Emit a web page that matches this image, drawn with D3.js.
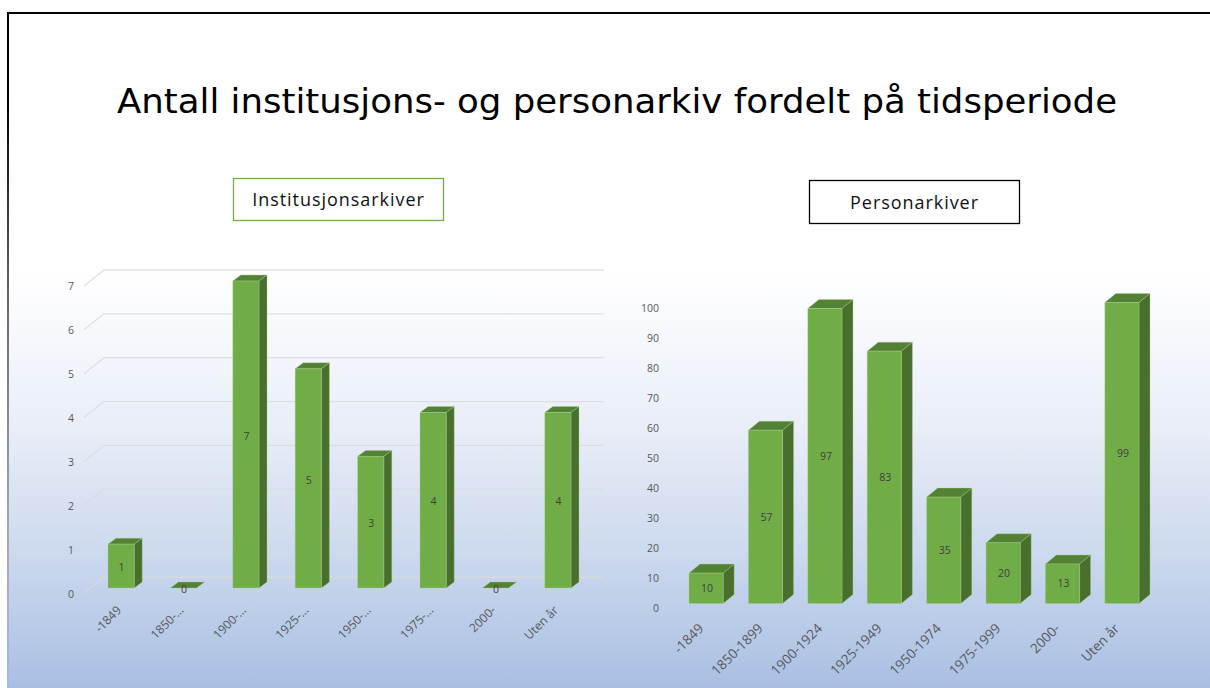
<!DOCTYPE html>
<html><head><meta charset="utf-8">
<script src="https://cdn.jsdelivr.net/npm/d3@7/dist/d3.min.js"></script>
<style>html,body{margin:0;padding:0;background:#fff}svg{display:block}</style>
</head><body><svg id="c" width="1210" height="688"></svg>
<script>
const titleText = "Antall institusjons- og personarkiv fordelt på tidsperiode";
const leftTitle = "Institusjonsarkiver";
const rightTitle = "Personarkiver";
const leftCategories = ["-1849","1850-…","1900-…","1925-…","1950-…","1975-…","2000-","Uten år"];
const leftValues = [1,0,7,5,3,4,0,4];
const leftTicks = [0,1,2,3,4,5,6,7];
const rightCategories = ["-1849","1850-1899","1900-1924","1925-1949","1950-1974","1975-1999","2000-","Uten år"];
const rightValues = [10,57,97,83,35,20,13,99];
const rightTicks = [0,10,20,30,40,50,60,70,80,90,100];

const svg = d3.select("#c");
const FONT = "'Open Sans','Noto Sans',sans-serif";
const defs = svg.append("defs");
const grad = defs.append("linearGradient").attr("id","bg").attr("x1",0).attr("x2",0).attr("y1",0).attr("y2",1);
[[0,"#ffffff"],[0.385,"#ffffff"],[0.62,"#e8edf7"],[0.8,"#ccd9ee"],[1,"#a9bfe2"]].forEach(s=>
  grad.append("stop").attr("offset",s[0]).attr("stop-color",s[1]));
const lineGrad = defs.append("linearGradient").attr("id","edge").attr("gradientUnits","userSpaceOnUse")
  .attr("x1",0).attr("x2",0).attr("y1",13).attr("y2",688);
[[0,"#000000"],[0.13,"#000000"],[0.42,"#666666"],[0.62,"#8a8f99"],[0.77,"#a0a8bc"],[1,"#a4bae0"]].forEach(s=>
  lineGrad.append("stop").attr("offset",s[0]).attr("stop-color",s[1]));
svg.append("rect").attr("x",8).attr("y",13).attr("width",1202).attr("height",675).attr("fill","url(#bg)");
svg.append("rect").attr("x",7).attr("y",12).attr("width",2).attr("height",676).attr("fill","url(#edge)");
svg.append("rect").attr("x",7).attr("y",12).attr("width",1203).attr("height",2).attr("fill","#000");

svg.append("text").attr("x",617).attr("y",113).attr("text-anchor","middle")
  .attr("font-family","'DejaVu Sans',sans-serif").attr("font-size",33).attr("fill","#000")
  .attr("textLength",1000).attr("lengthAdjust","spacingAndGlyphs").text(titleText);

function box(x,y,w,h,stroke,t,base){
  svg.append("rect").attr("x",x).attr("y",y).attr("width",w).attr("height",h).attr("fill","#fff").attr("stroke",stroke).attr("stroke-width",1.3);
  svg.append("text").attr("x",x+w/2).attr("y",base).attr("text-anchor","middle").attr("font-family",FONT)
    .attr("font-size",18).attr("letter-spacing",0.95).attr("fill","#111").text(t);
}
box(233.5,178.5,210,42,"#70ad47",leftTitle,205.5);
box(809.5,180.5,210,43,"#000",rightTitle,208.5);

function chart(o){
  const g = svg.append("g");
  const x = d3.scaleBand().domain(o.cats).range([o.x0,o.x1]).paddingInner(o.pad).paddingOuter(0);
  const y = d3.scaleLinear().domain(o.domain).range([o.base,o.top]);
  const yTick = d3.scaleLinear().domain(o.domain).range(o.tickRange);
  if(o.grid){
    o.ticks.forEach(t=>{
      const yy=y(t);
      g.append("path").attr("d",`M${o.gridLeft},${yy+o.gridFront}L${o.gridLeft+20},${yy+o.gridBack}H${o.gridRight}`)
       .attr("fill","none").attr("stroke","#d9d9d9").attr("stroke-opacity",0.8).attr("stroke-width",1.3);
    });
  }
  const axis = d3.axisLeft(yTick).tickValues(o.ticks).tickFormat(d3.format("d")).tickSize(0).tickPadding(0);
  const ag = g.append("g").attr("transform",`translate(${o.tickX},0)`).call(axis);
  ag.select(".domain").remove();
  ag.selectAll("text").attr("font-family",FONT).attr("font-size",o.fs).attr("fill","#595959").attr("dy","0.35em");
  o.cats.forEach((c,i)=>{
    const v=o.vals[i], bx=x(c), w=x.bandwidth(), yt=y(v), b=o.base, dx=o.dx, dy=o.dy;
    const m=g.append("g").attr("stroke","#a9d18e").attr("stroke-opacity",0.35).attr("stroke-width",1).attr("stroke-linejoin","round");
    m.append("path").attr("d",`M${bx},${yt}L${bx+dx},${yt-dy}H${bx+w+dx}L${bx+w},${yt}Z`).attr("fill","#548235");
    if(v>0){
      m.append("path").attr("d",`M${bx+w},${yt}L${bx+w+dx},${yt-dy}V${b-dy}L${bx+w},${b}Z`).attr("fill","#48702c");
      m.append("rect").attr("x",bx).attr("y",yt).attr("width",w).attr("height",b-yt).attr("fill","#70ad47");
    }
    g.append("text").attr("x",bx+w/2+o.valDx).attr("y",v>0?(yt+b)/2+o.valDy:b+1).attr("dy","0.35em").attr("text-anchor","middle")
      .attr("font-family",FONT).attr("font-size",o.fs).attr("fill","#404040").text(v);
    const lx=bx+w/2+o.labDx, ly=o.labY;
    g.append("text").attr("transform",`translate(${lx},${ly}) rotate(-45)`).attr("text-anchor","end").attr("dy","0.35em")
      .attr("font-family",FONT).attr("font-size",o.labFs).attr("fill","#595959").text(c);
  });
}
chart({cats:leftCategories,vals:leftValues,ticks:leftTicks,domain:[0,7],base:588,top:281,x0:108,x1:571,pad:0.58,dx:8,dy:6,
  grid:true,gridLeft:84,gridRight:604,gridFront:5,gridBack:-11,tickX:74,tickRange:[594,286],fs:10.5,labFs:12,labDx:-2,labY:608,valDx:0.5,valDy:1.5});
chart({cats:rightCategories,vals:rightValues,ticks:rightTicks,domain:[0,100],base:603.5,top:299.5,x0:689,x1:1139,pad:0.425,dx:11,dy:9,
  grid:false,tickX:659,tickRange:[608,308],fs:10.5,labFs:13.5,labDx:-5,labY:626,valDx:1,valDy:0});
</script></body></html>
